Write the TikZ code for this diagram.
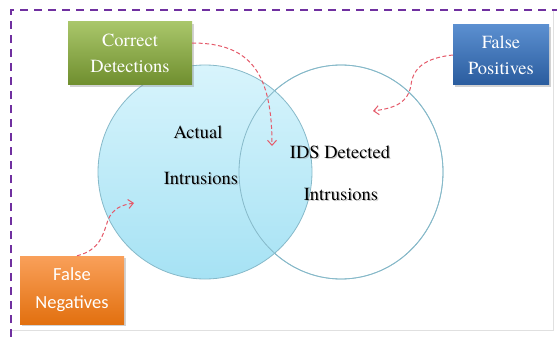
\documentclass[tikz,border=0pt]{standalone}
\usepackage{fontspec}
\newfontfamily\timesface{TeX Gyre Termes}
\newfontfamily\calib{Carlito}
\usetikzlibrary{shapes.geometric,shadows,arrows.meta,calc}
\definecolor{framepurple}{HTML}{7030A0}
\definecolor{arrowred}{HTML}{E55A6A}
\definecolor{ringline}{HTML}{86B9C9}
\definecolor{greentop}{HTML}{A9C66A}
\definecolor{greenbot}{HTML}{6F8E2E}
\definecolor{bluetop}{HTML}{5B8FD0}
\definecolor{bluebot}{HTML}{2A5C9E}
\definecolor{orangetop}{HTML}{F9A05A}
\definecolor{orangebot}{HTML}{E2700F}
\definecolor{cyantop}{HTML}{D8F4FC}
\definecolor{cyanbot}{HTML}{A6E2F4}
\tikzset{
  x=1pt, y=-1pt,
  labelbox/.style={rectangle, inner sep=0pt, align=center, text=white,
    font=\timesface\fontsize{18.5}{26}\selectfont,
    drop shadow={opacity=0.35, shadow xshift=1.5pt, shadow yshift=-2pt}},
  setlabel/.style={align=center, font=\timesface\fontsize{18.5}{20}\selectfont, text=black},
  callout/.style={arrowred, line width=1pt, dash pattern=on 4pt off 2.5pt,
    -{Straight Barb[length=5pt,width=9pt]}},
}
\newcommand{\shadowtext}[3]{%
  \node[setlabel, text=black!45, opacity=0.45] at ($(#1)+(1.2,1.5)$) {#3};
  \node[setlabel] (#2) at (#1) {#3};}
\begin{document}
\begin{tikzpicture}
\useasboundingbox (0,0) rectangle (557,337);
\fill[white] (0,0) rectangle (557,337);
% faint slide edge
\draw[black!12, line width=0.6pt] (11,330) -- (553,330) -- (553,10);
% dashed purple frame
\draw[framepurple, line width=2.5pt, dash pattern=on 8pt off 6pt]
  (11,337) -- (11,10) -- (557,10);

% the two sets
\node[ellipse, minimum width=204pt, minimum height=214pt, fill=white,
  draw=ringline, line width=0.8pt] (ids) at (341,172) {};
\node[circle, minimum size=214pt, inner sep=0pt, top color=cyantop,
  bottom color=cyanbot, draw=ringline, line width=0.8pt] (act) at (205,172) {};
\draw[ringline, line width=0.8pt] (ids.center) ellipse [x radius=102, y radius=107];

% set labels
\coordinate (pa) at (198,132);
\coordinate (pb) at (201,178);
\coordinate (pc) at (340,152);
\coordinate (pd) at (341,194);
\shadowtext{pa}{actual}{Actual}
\shadowtext{pb}{intra}{Intrusions}
\shadowtext{pc}{idsdet}{IDS Detected}
\shadowtext{pd}{intrb}{Intrusions}

% category boxes
\node[labelbox, minimum width=124pt, minimum height=63pt,
  top color=greentop, bottom color=greenbot] (cd) at (130,53.5)
  {Correct\\Detections};
\node[labelbox, minimum width=96pt, minimum height=60pt,
  top color=bluetop, bottom color=bluebot] (fp) at (501,55)
  {False\\Positives};
\node[labelbox, minimum width=104pt, minimum height=68pt,
  top color=orangetop, bottom color=orangebot,
  font=\calib\fontsize{18.5}{28}\selectfont] (fn) at (72,290)
  {False\\Negatives};

% targets of the callouts
\coordinate (tcd) at (272,146);
\coordinate (tfp) at (373,111);
\coordinate (tfn) at (134,203);

\draw[callout] ($(cd.east)+(0,-10.5)$) .. controls (252,43) and (272,75) .. (tcd);
\draw[callout] (fp.west) .. controls (425,58) and (413,68) .. (411,85)
  .. controls (408,103) and (395,108) .. (tfp);
\draw[callout] ($(fn.north)+(5,0)$) .. controls (100,250) and (103,235) .. (108,220)
  .. controls (113,208) and (122,205) .. (tfn);
\end{tikzpicture}
\end{document}
